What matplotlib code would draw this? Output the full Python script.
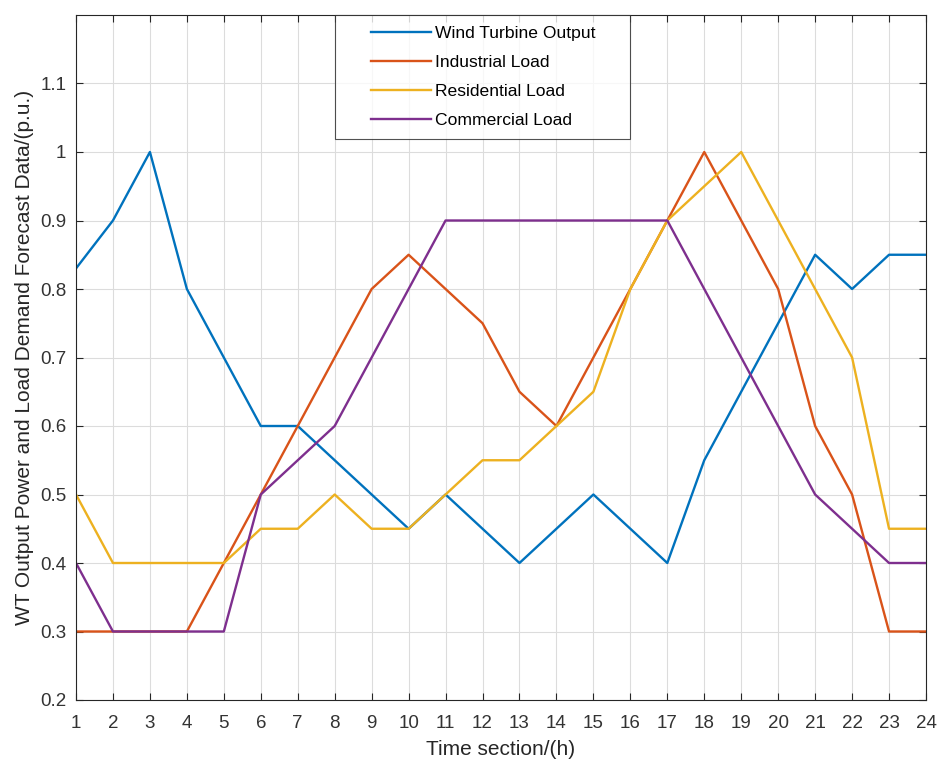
import matplotlib
matplotlib.use("Agg")
import matplotlib.pyplot as plt
from matplotlib.lines import Line2D
from matplotlib.legend_handler import HandlerBase

hours = list(range(1, 25))
wind = [0.83, 0.9, 1.0, 0.8, 0.7, 0.6, 0.6, 0.55, 0.5, 0.45, 0.5, 0.45,
        0.4, 0.45, 0.5, 0.45, 0.4, 0.55, 0.65, 0.75, 0.85, 0.8, 0.85, 0.85]
industrial = [0.3, 0.3, 0.3, 0.3, 0.4, 0.5, 0.6, 0.7, 0.8, 0.85, 0.8, 0.75,
              0.65, 0.6, 0.7, 0.8, 0.9, 1.0, 0.9, 0.8, 0.6, 0.5, 0.3, 0.3]
residential = [0.5, 0.4, 0.4, 0.4, 0.4, 0.45, 0.45, 0.5, 0.45, 0.45, 0.5, 0.55,
               0.55, 0.6, 0.65, 0.8, 0.9, 0.95, 1.0, 0.9, 0.8, 0.7, 0.45, 0.45]
commercial = [0.4, 0.3, 0.3, 0.3, 0.3, 0.5, 0.55, 0.6, 0.7, 0.8, 0.9, 0.9,
              0.9, 0.9, 0.9, 0.9, 0.9, 0.8, 0.7, 0.6, 0.5, 0.45, 0.4, 0.4]
labels = ["Wind Turbine Output", "Industrial Load", "Residential Load", "Commercial Load"]
colors = ["#0072BD", "#D95319", "#EDB120", "#7E2F8E"]
yticks = [0.2, 0.3, 0.4, 0.5, 0.6, 0.7, 0.8, 0.9, 1.0, 1.1]
yticklabels = ["0.2", "0.3", "0.4", "0.5", "0.6", "0.7", "0.8", "0.9", "1", "1.1"]

plt.rcParams['font.family'] = ['Liberation Sans', 'DejaVu Sans']


class OffsetLineHandler(HandlerBase):
    frac = 0.29

    def create_artists(self, legend, orig_handle, xdescent, ydescent, width,
                       height, fontsize, trans):
        y = height / 2 - ydescent
        line = Line2D([width * self.frac - xdescent, width - xdescent], [y, y],
                      color=orig_handle.get_color(), lw=orig_handle.get_linewidth())
        line.set_transform(trans)
        return [line]


fig = plt.figure(figsize=(9.38, 7.61), dpi=100)
ax = fig.add_axes([76/938, 61/761, 850/938, 685/761])

handles = []
for data, lab, c in zip([wind, industrial, residential, commercial], labels, colors):
    h, = ax.plot(hours, data, color=c, lw=1.7, label=lab)
    handles.append(h)

ax.set_xlim(1, 24)
ax.set_ylim(0.2, 1.2)
ax.set_xticks(hours)
ax.set_yticks(yticks)
ax.set_yticklabels(yticklabels)
ax.set_yticks([1.2], minor=True)
ax.grid(True, color="#dcdcdc", lw=0.8)
ax.tick_params(direction="in", top=True, right=True, labelsize=13.5,
               labelcolor="#333333", color="#262626", length=5, width=0.8, pad=7)
ax.tick_params(axis="x", pad=10.5)
ax.tick_params(axis="y", which="minor", left=False, right=False)
for s in ax.spines.values():
    s.set_color("#262626")
    s.set_linewidth(0.8)
ax.set_xlabel("Time section/(h)", fontsize=15, color="#262626", labelpad=6)
ax.set_ylabel("WT Output Power and Load Demand Forecast Data/(p.u.)", fontsize=15,
              color="#262626", labelpad=4.5)

leg = ax.legend(handles=handles, labels=labels, loc="upper left",
                bbox_to_anchor=(0.3047, 0.0, 0.347, 1.0), mode="expand",
                fontsize=12.6, frameon=True, fancybox=False, edgecolor="#262626",
                handlelength=4.88, labelspacing=0.79, borderpad=0.62,
                handletextpad=0.24, borderaxespad=0,
                handler_map={Line2D: OffsetLineHandler()})
leg.get_frame().set_linewidth(0.8)

fig.savefig("out.png", dpi=100)
